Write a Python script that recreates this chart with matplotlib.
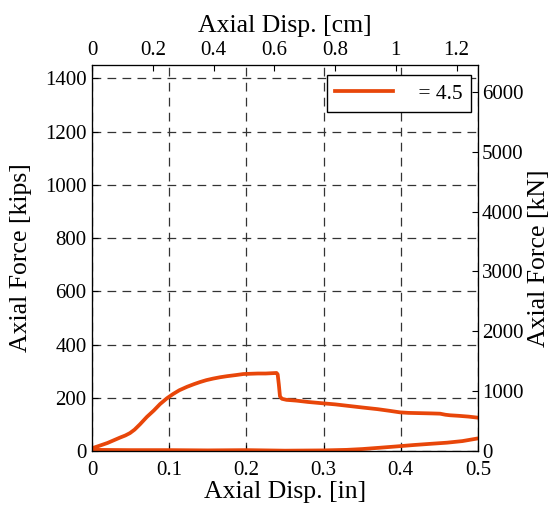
import numpy as np
import matplotlib
matplotlib.use("Agg")
import matplotlib.pyplot as plt

plt.rcParams['font.family'] = ['Liberation Serif', 'DejaVu Serif']

# loading branch (in, kips)
disp_up = [0.0, 0.005, 0.012, 0.02, 0.028, 0.036, 0.043, 0.049, 0.055, 0.062, 0.071, 0.08,
           0.088, 0.097, 0.105, 0.113, 0.123, 0.132, 0.14, 0.148, 0.157, 0.166, 0.175,
           0.186, 0.196, 0.205, 0.215, 0.225, 0.232, 0.239, 0.2405, 0.242, 0.2435, 0.246,
           0.252, 0.265, 0.28, 0.299, 0.315, 0.33, 0.351, 0.37, 0.385, 0.399, 0.41, 0.425,
           0.44, 0.451, 0.458, 0.464, 0.475, 0.488, 0.5]
force_up = [10, 15, 22, 30, 40, 50, 58, 67, 80, 100, 128, 152, 176, 198, 214, 228, 241, 251,
            259, 266, 272, 277, 281, 285, 289, 290, 291, 291, 292, 293, 288, 250, 205, 196,
            192, 189, 184, 179, 175, 170, 163, 157, 151, 145, 143, 142, 141, 140, 136, 134,
            132, 129, 125]

# lower branch (in, kips)
disp_lo = [0.0, 0.05, 0.1, 0.15, 0.2, 0.25, 0.3, 0.33, 0.35, 0.373, 0.395, 0.416, 0.44,
           0.46, 0.48, 0.5]
force_lo = [4, 3, 3, 2, 3, 1, 2, 4, 7, 12, 17, 22, 27, 31, 37, 47]

KN = 4.448
CM = 2.54
color = '#e8460a'

fig = plt.figure(figsize=(5.55, 5.13), dpi=100)
ax = fig.add_axes([0.166, 0.121, 0.695, 0.752])

ax.plot(disp_up, force_up, color=color, lw=2.7, label=' = 4.5')
ax.plot(disp_lo, force_lo, color=color, lw=2.7)

ax.set_xlim(0, 0.5)
ax.set_ylim(0, 1450)
ax.set_xticks([0, 0.1, 0.2, 0.3, 0.4, 0.5])
ax.set_xticklabels(['0', '0.1', '0.2', '0.3', '0.4', '0.5'])
ax.set_yticks(np.arange(0, 1401, 200))
ax.grid(True, color='0.2', ls=(0, (7, 5)), lw=0.9)
ax.tick_params(direction='in', labelsize=15, length=4, top=True, right=True)
ax.tick_params(axis='x', pad=7)
ax.tick_params(axis='y', pad=4)
ax.set_xlabel('Axial Disp. [in]', fontsize=18.5, labelpad=1)
ax.set_ylabel('Axial Force [kips]', fontsize=18.5, labelpad=9)

axr = ax.twinx()
axr.set_ylim(0, 1450 * KN)
axr.set_yticks(np.arange(0, 6001, 1000))
axr.tick_params(direction='in', labelsize=15, length=4, pad=3)
axr.set_ylabel('Axial Force [kN]', fontsize=18.5, labelpad=3)

axt = ax.twiny()
axt.set_xlim(0, 0.5 * CM)
axt.set_xticks([0, 0.2, 0.4, 0.6, 0.8, 1.0, 1.2])
axt.set_xticklabels(['0', '0.2', '0.4', '0.6', '0.8', '1', '1.2'])
axt.tick_params(direction='in', labelsize=15, length=4, pad=4)
axt.set_xlabel('Axial Disp. [cm]', fontsize=18.5, labelpad=6)

leg = ax.legend(loc='upper right', fontsize=15.5, fancybox=False, framealpha=1,
                edgecolor='black', handlelength=2.7, borderpad=0.4, borderaxespad=0,
                handletextpad=0.9, bbox_to_anchor=(0.982, 0.974))
leg.get_frame().set_linewidth(1.0)

fig.savefig('out.png', dpi=100)
